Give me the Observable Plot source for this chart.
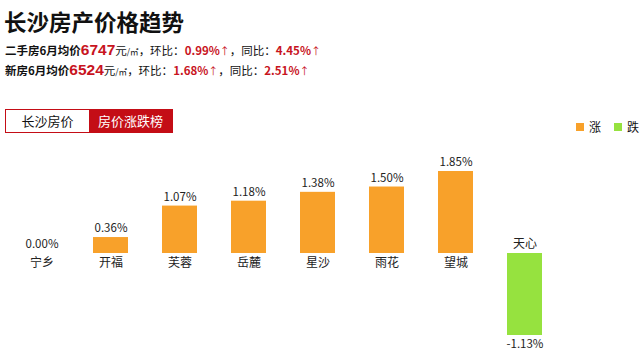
<!DOCTYPE html>
<html>
<head>
<meta charset="utf-8">
<script src="https://cdn.jsdelivr.net/npm/d3@7"></script>
<script src="https://cdn.jsdelivr.net/npm/@observablehq/plot@0.6"></script>
<style>
  html, body { margin: 0; padding: 0; background: #fff; }
  body { width: 640px; height: 358px; position: relative; overflow: hidden;
         font-family: "Noto Sans CJK SC", "Noto Sans", sans-serif; color: #111; }
  .title { position: absolute; left: 4px; top: 6px; font-size: 22.5px; font-weight: 700; line-height: 30px; }
  .sub { position: absolute; left: 5px; font-size: 11.5px; font-weight: 700; line-height: 18px; height: 18px; white-space: nowrap; }
  .sub .big { color: #c8141e; font-family: "Liberation Sans", Arial, sans-serif; font-size: 15.5px; font-weight: 700; line-height: 18px; }
  .sub .unit { font-weight: 400; font-size: 11.5px; }
  .sub .m2 { font-weight: 400; font-size: 8.5px; }
  .sub .red { color: #c8141e; }
  .sub .arr { color: #c8141e; font-weight: 400; font-size: 10px; }
  .tabs { position: absolute; left: 5px; top: 109px; width: 166px; height: 22px; border: 1px solid #c40d16; display: flex; }
  .tab { font-size: 13px; line-height: 22px; text-align: center; }
  .tab1 { width: 83px; background: #fff; color: #111; }
  .tab2 { flex: 1; background: #c40d16; color: #fff; }
  .legend { position: absolute; top: 119px; left: 576px; font-size: 12px; display: flex; align-items: center; line-height: 16px; }
  .sw { display: inline-block; width: 8px; height: 8px; margin-right: 5px; }
  #chart { position: absolute; left: 0; top: 140px; }
</style>
</head>
<body>
<div class="title" id="title"></div>
<div class="sub" id="sub1" style="top:41px"></div>
<div class="sub" id="sub2" style="top:61px"></div>
<div class="tabs"><div class="tab tab1" id="tab1"></div><div class="tab tab2" id="tab2"></div></div>
<div class="legend" id="legend"></div>
<div id="chart"></div>
<script>
// ---- data ----
const titleText = "长沙房产价格趋势";
const tabLabels = ["长沙房价", "房价涨跌榜"];
const legendLabels = ["涨", "跌"];
const legendColors = ["#f8a12a", "#96e23f"];
const statLabels = ["二手房6月均价", "新房6月均价"];
const statPrices = ["6747", "6524"];
const statMoM = ["0.99%", "1.68%"];
const statYoY = ["4.45%", "2.51%"];
const categories = ["宁乡", "开福", "芙蓉", "岳麓", "星沙", "雨花", "望城", "天心"];
const values = [0.00, 0.36, 1.07, 1.18, 1.38, 1.50, 1.85, -1.13];

// ---- header ----
document.getElementById("title").textContent = titleText;
[0, 1].forEach(i => {
  const el = document.getElementById("sub" + (i + 1));
  el.innerHTML = `${statLabels[i]}<span class="big">${statPrices[i]}</span><span class="unit">元</span><span class="m2">/㎡</span><span class="unit">，环比：</span><span class="red">${statMoM[i]}</span><span class="arr">↑</span><span class="unit">，同比：</span><span class="red">${statYoY[i]}</span><span class="arr">↑</span>`;
});
document.getElementById("tab1").textContent = tabLabels[0];
document.getElementById("tab2").textContent = tabLabels[1];
document.getElementById("legend").innerHTML = legendLabels.map((l, i) =>
  `<span class="sw" style="background:${legendColors[i]}"></span><span style="margin-right:${i === 0 ? 13 : 0}px">${l}</span>`).join("");

// ---- chart ----
const rows = categories.map((c, i) => ({name: c, value: values[i]}));
const pos = rows.filter(d => d.value >= 0);
const neg = rows.filter(d => d.value < 0);
const fmt = v => v.toFixed(2) + "%";
const font = "Noto Sans CJK SC";
const vMax = d3.max(values), vMin = d3.min(values);
// the source chart draws the negative side on its own (stretched) scale
const negStretch = vMax / -vMin;

const chart = Plot.plot({
  width: 640,
  height: 218,
  marginLeft: 5,
  marginRight: 63,
  marginTop: 0,
  marginBottom: 0,
  style: {fontFamily: font, background: "transparent"},
  x: {type: "band", domain: categories, range: [5, 561], paddingInner: 0.5, paddingOuter: 0.25, axis: null},
  y: {transform: v => v < 0 ? v * negStretch : v, domain: [-vMax, vMax], range: [195, 31], axis: null},
  marks: [
    Plot.ruleY([0], {stroke: "#e6e6e6", strokeWidth: 1, x1: 5, x2: 577}),
    Plot.barY(rows, {x: "name", y: "value", fill: d => d.value >= 0 ? legendColors[0] : legendColors[1]}),
    Plot.text(pos, {x: "name", y: "value", text: d => fmt(d.value), dy: -9, fontSize: 11.5, fill: "#222"}),
    Plot.text(neg, {x: "name", y: "value", text: d => fmt(d.value), dy: 9, fontSize: 11.5, fill: "#222"}),
    Plot.text(pos, {x: "name", y: 0, text: "name", dy: 10, fontSize: 12, fill: "#222"}),
    Plot.text(neg, {x: "name", y: 0, text: "name", dy: -9, fontSize: 12, fill: "#222"})
  ]
});
document.getElementById("chart").appendChild(chart);
</script>
</body>
</html>
